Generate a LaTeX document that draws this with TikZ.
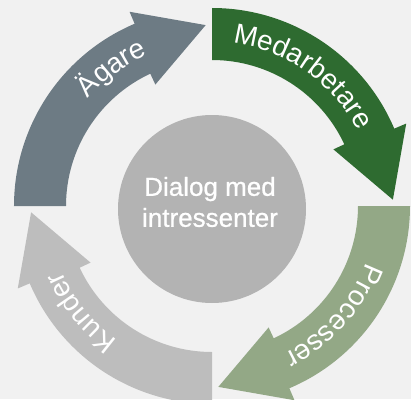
\documentclass[tikz,border=0pt]{standalone}
\usepackage{fontspec}
\setmainfont{Liberation Sans}
\newfontfamily\centrefont[FakeBold=0.8]{Liberation Sans}
\usetikzlibrary{decorations.text}
\definecolor{bgc}{HTML}{F1F1F1}
\definecolor{slatec}{HTML}{6D7B84}
\definecolor{darkgreenc}{HTML}{2E6B30}
\definecolor{lightgreenc}{HTML}{93A886}
\definecolor{lightgrayc}{HTML}{BDBDBD}
\definecolor{circgrayc}{HTML}{B3B3B3}
\tikzset{
  labeltext/.style={decorate, decoration={text along path, text align=center,
    text color=white, text={|\fontsize{28}{30}\selectfont|#1}}},
}
\begin{document}
\begin{tikzpicture}[x=1pt,y=1pt]
\fill[bgc] (-212,-193) rectangle (199,206);
\useasboundingbox (-212,-193) rectangle (199,206);
% arrows
\fill[slatec] (180:198) arc[start angle=180,end angle=113,radius=198] -- (113:211) -- (92:181) -- (115:134) -- (115:146) arc[start angle=115,end angle=180,radius=146] -- cycle;
\fill[darkgreenc] (90:198) arc[start angle=90,end angle=23,radius=198] -- (23:211) -- (2:181) -- (25:134) -- (25:146) arc[start angle=25,end angle=90,radius=146] -- cycle;
\fill[lightgreenc] (0:198) arc[start angle=0,end angle=-67,radius=198] -- (-67:211) -- (-88:181) -- (-65:134) -- (-65:146) arc[start angle=-65,end angle=0,radius=146] -- cycle;
\fill[lightgrayc] (-90:198) arc[start angle=-90,end angle=-157,radius=198] -- (-157:211) -- (-178:181) -- (-155:134) -- (-155:146) arc[start angle=-155,end angle=-90,radius=146] -- cycle;
% labels
\path[labeltext={Ägare}] (176:164) arc[start angle=176,end angle=76,radius=164];
\path[labeltext={Medarbetare}] (105:164) arc[start angle=105,end angle=5,radius=164];
\path[labeltext={Processer}] (8:164) arc[start angle=8,end angle=-92,radius=164];
\path[labeltext={Kunder}] (-91:164) arc[start angle=-91,end angle=-191,radius=164];
% centre
\node[circle, fill=circgrayc, minimum size=188pt, inner sep=0pt] (dlg) at (0,-3) {};
\node[text=white, align=center, font=\centrefont\fontsize{26}{31}\selectfont] (dtext) at (-2,4) {Dialog med\\intressenter};
\end{tikzpicture}
\end{document}
